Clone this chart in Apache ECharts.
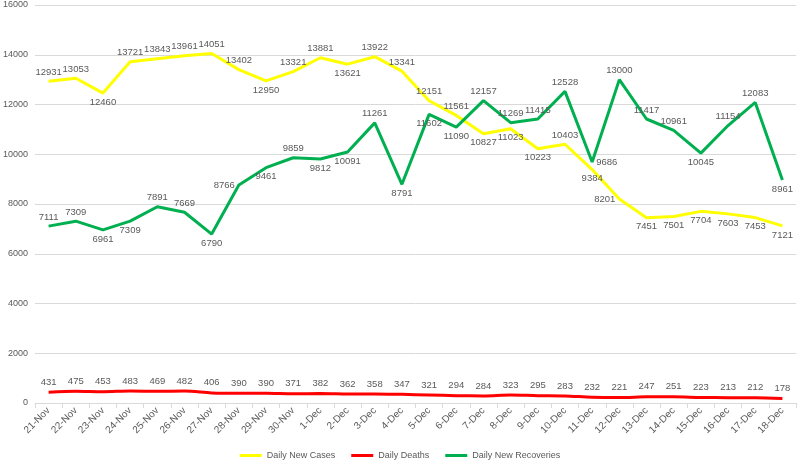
<!DOCTYPE html>
<html>
<head>
<meta charset="utf-8">
<script src="https://cdn.jsdelivr.net/npm/echarts@6/dist/echarts.min.js"></script>
<style>html,body{margin:0;padding:0;background:#fff}#c{width:800px;height:466px}</style>
</head>
<body>
<div id="c"></div>
<script>
const categories = ["21-Nov","22-Nov","23-Nov","24-Nov","25-Nov","26-Nov","27-Nov","28-Nov","29-Nov","30-Nov","1-Dec","2-Dec","3-Dec","4-Dec","5-Dec","6-Dec","7-Dec","8-Dec","9-Dec","10-Dec","11-Dec","12-Dec","13-Dec","14-Dec","15-Dec","16-Dec","17-Dec","18-Dec"];
const dailyNewCases = [12931,13053,12460,13721,13843,13961,14051,13402,12950,13321,13881,13621,13922,13341,12151,11561,10827,11023,10223,10403,9384,8201,7451,7501,7704,7603,7453,7121];
const dailyDeaths = [431,475,453,483,469,482,406,390,390,371,382,362,358,347,321,294,284,323,295,283,232,221,247,251,223,213,212,178];
const dailyNewRecoveries = [7111,7309,6961,7309,7891,7669,6790,8766,9461,9859,9812,10091,11261,8791,11602,11090,12157,11269,11415,12528,9686,13000,11417,10961,10045,11154,12083,8961];
const yTicks = {min: 0, max: 16000, interval: 2000};

// label placement (style only)
const casesPos = ["top","top","bottom","top","top","top","top","top","bottom","top","top","bottom","top","top","top","top","bottom","bottom","bottom","top","bottom","left","bottom","bottom","bottom","bottom","bottom","bottom"];
const recPos = ["top","top","bottom","bottom","top","top","bottom","left","bottom","top","bottom","bottom","top","bottom","bottom","bottom","top","top","top","top","right","top","top","top","bottom","top","top","bottom"];

function build(vals, pos) {
  return vals.map((v, i) => ({value: v, label: {position: pos ? pos[i] : 'top'}}));
}
const labelStyle = {show: true, color: '#595959', fontSize: 9.5, fontFamily: 'Liberation Sans', distance: 4};

const chart = echarts.init(document.getElementById('c'), null, {renderer: 'canvas'});
chart.setOption({
  animation: false,
  textStyle: {fontFamily: 'Liberation Sans'},
  grid: {left: 32, right: 4, top: 5, bottom: 63},
  legend: {
    bottom: 1, left: 'center', itemWidth: 22, itemHeight: 3, itemGap: 16,
    icon: 'rect',
    textStyle: {color: '#595959', fontSize: 9},
    data: ['Daily New Cases', 'Daily Deaths', 'Daily New Recoveries']
  },
  xAxis: {
    type: 'category', data: categories, boundaryGap: true,
    axisLine: {lineStyle: {color: '#d9d9d9'}},
    axisTick: {show: true, lineStyle: {color: '#d9d9d9'}},
    axisLabel: {rotate: 45, color: '#595959', fontSize: 10, interval: 0, margin: 6}
  },
  yAxis: {
    type: 'value', min: yTicks.min, max: yTicks.max, interval: yTicks.interval,
    axisLine: {show: false}, axisTick: {show: false},
    axisLabel: {color: '#595959', fontSize: 9, margin: 7, formatter: v => String(v)},
    splitLine: {lineStyle: {color: '#d9d9d9'}}
  },
  series: [
    {name: 'Daily New Cases', type: 'line', data: build(dailyNewCases, casesPos), symbol: 'circle', symbolSize: 0.1, showSymbol: true,
     lineStyle: {width: 3, color: '#FFFF00'}, itemStyle: {color: '#FFFF00'}, label: labelStyle},
    {name: 'Daily Deaths', type: 'line', data: build(dailyDeaths), symbol: 'circle', symbolSize: 0.1, showSymbol: true, smooth: 0.3,
     lineStyle: {width: 3, color: '#FF0000'}, itemStyle: {color: '#FF0000'}, label: Object.assign({}, labelStyle, {distance: 5})},
    {name: 'Daily New Recoveries', type: 'line', data: build(dailyNewRecoveries, recPos), symbol: 'circle', symbolSize: 0.1, showSymbol: true,
     lineStyle: {width: 3, color: '#00B050'}, itemStyle: {color: '#00B050'}, label: labelStyle}
  ]
});
</script>
</body>
</html>
